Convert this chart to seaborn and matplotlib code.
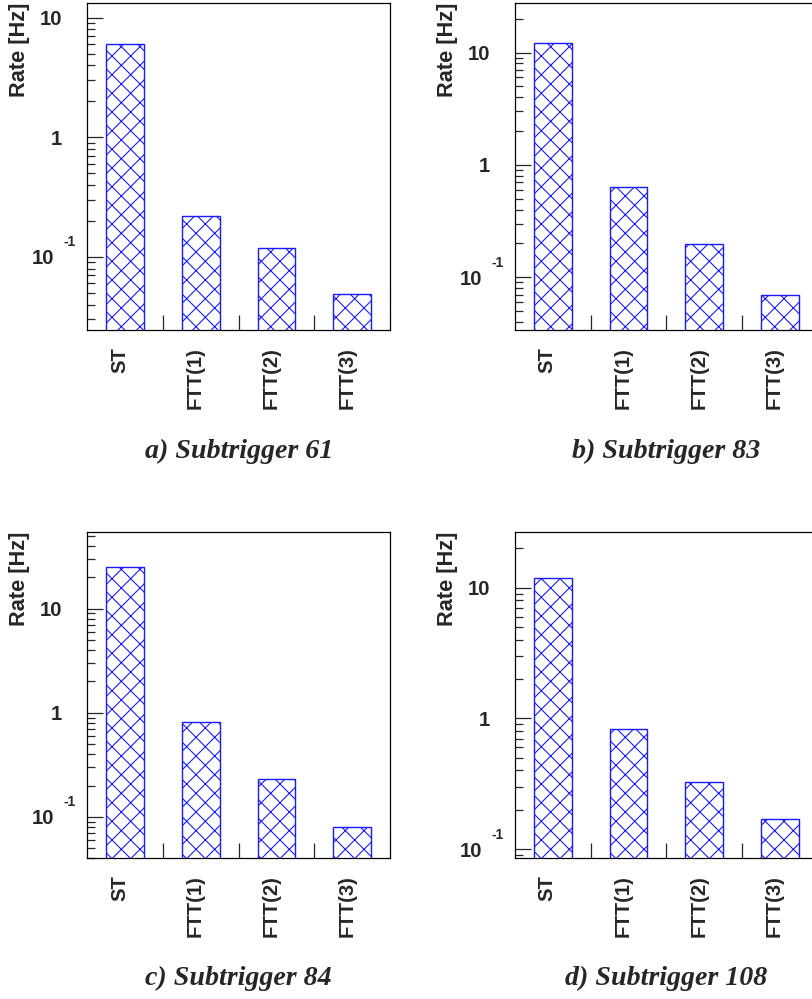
import numpy as np
import matplotlib
matplotlib.use("Agg")
import matplotlib.pyplot as plt
import matplotlib.ticker as mticker
import matplotlib.transforms as mtransforms
import seaborn as sns

# bin labels and rates [Hz]
labels = ["ST", "FTT(1)", "FTT(2)", "FTT(3)"]
rates_61 = [6.0, 0.22, 0.118, 0.049]
rates_83 = [12.1, 0.64, 0.196, 0.069]
rates_84 = [24.9, 0.81, 0.23, 0.080]
rates_108 = [11.9, 0.83, 0.327, 0.17]
titles = ["a) Subtrigger 61", "b) Subtrigger 83", "c) Subtrigger 84", "d) Subtrigger 108"]
ylims = [(0.0245, 13.3), (0.034, 27.6), (0.040, 55), (0.085, 26.8)]

DPI = 112
sns.set_style("white")
plt.rcParams["font.family"] = ["Liberation Sans", "DejaVu Sans"]
plt.rcParams["font.weight"] = "bold"
plt.rcParams["hatch.linewidth"] = 0.7

fig = plt.figure(figsize=(812 / DPI, 999 / DPI), dpi=DPI)

# axes rectangles in figure fractions
boxes = [
    [0.1075, 0.6697, 0.3728, 0.3273],
    [0.6342, 0.6697, 0.3728, 0.3273],
    [0.1075, 0.1408, 0.3728, 0.3270],
    [0.6342, 0.1408, 0.3728, 0.3270],
]
title_y = [0.5485, 0.5485, 0.021, 0.021]
all_rates = [rates_61, rates_83, rates_84, rates_108]

for i, rates in enumerate(all_rates):
    ax = fig.add_axes(boxes[i])
    sns.barplot(x=labels, y=rates, ax=ax, width=0.5, color="white",
                edgecolor="#1a1aff", linewidth=0.9, hatch="xx", errorbar=None)
    ax.set_yscale("log")
    ax.set_ylim(*ylims[i])
    ax.set_xlim(-0.5, 3.5)

    for s in ax.spines.values():
        s.set_linewidth(0.8)
        s.set_color("black")

    # y axis: ROOT-like ticks, labels only at decades
    ax.yaxis.set_major_locator(mticker.FixedLocator([0.1, 1, 10]))
    ax.yaxis.set_major_formatter(mticker.FixedFormatter(["", "1", "10"]))
    ax.yaxis.set_minor_locator(mticker.LogLocator(base=10, subs=np.arange(2, 10)))
    ax.yaxis.set_minor_formatter(mticker.NullFormatter())
    ax.tick_params(axis="y", which="major", direction="in", length=10.3, width=0.8,
                   pad=16.2, labelsize=13, left=True, right=False)
    ax.tick_params(axis="y", which="minor", direction="in", length=5.1, width=0.8,
                   left=True, right=False)
    # 10^-1 label drawn ROOT style
    tr = mtransforms.blended_transform_factory(ax.transAxes, ax.transData)
    ax.annotate("10", xy=(0, 0.1), xycoords=tr, xytext=(-21.2, 0),
                textcoords="offset points", ha="right", va="center_baseline",
                fontsize=13, fontweight="bold")
    ax.annotate("-1", xy=(0, 0.1), xycoords=tr, xytext=(-7.1, 10.3),
                textcoords="offset points", ha="right", va="center_baseline",
                fontsize=9, fontweight="bold")

    # x axis: labels at bin centres, short ticks at bin edges
    ax.set_xticks(range(len(labels)))
    ax.set_xticklabels(labels, fontsize=13, fontweight="bold")
    ax.set_xticks([0.5, 1.5, 2.5], minor=True)
    ax.tick_params(axis="x", which="major", length=0, pad=10.8, bottom=True, top=False)
    ax.tick_params(axis="x", which="minor", direction="in", length=9.6, width=0.8,
                   bottom=True, top=False)
    for lab in ax.get_xticklabels():
        lab.set_rotation(90)
        lab.set_rotation_mode("anchor")
        lab.set_ha("right")
        lab.set_va("baseline")

    ax.set_ylabel("Rate [Hz]", fontsize=14, fontweight="bold", loc="top")
    ax.yaxis.set_label_coords(-0.188, 1.0)
    ax.set_xlabel("")

    x0, _, w, _ = boxes[i]
    fig.text(x0 + w / 2, title_y[i], titles[i], ha="center", va="center",
             family=["Liberation Serif", "DejaVu Serif"], style="italic",
             fontweight="bold", fontsize=18)

fig.savefig("out.png", dpi=DPI)
